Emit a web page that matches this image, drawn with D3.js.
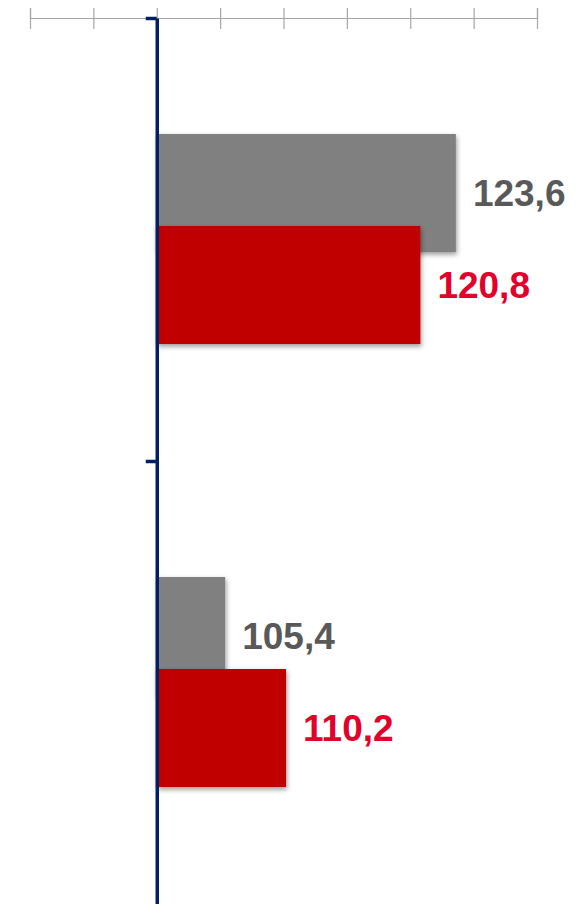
<!DOCTYPE html>
<html>
<head>
<meta charset="utf-8">
<script src="https://cdn.jsdelivr.net/npm/d3@7"></script>
<style>
  html, body { margin: 0; padding: 0; background: #fff; }
  svg { display: block; }
</style>
</head>
<body>
<svg id="chart" width="587" height="904"></svg>
<script>
// ---- data ----
const categories = ["Kategorie 1", "Kategorie 2"];
const seriesNames = ["Vorjahr", "Aktuell"];
const previousValues = [123.6, 105.4];
const currentValues = [120.8, 110.2];
const axisTicks = [90, 95, 100, 105, 110, 115, 120, 125, 130];
const baseValue = 100;

const seriesColors = ["#808080", "#C00000"];
const labelColors = ["#595959", "#E3002B"];

const svg = d3.select("#chart");
const W = 587, H = 904;

const x = d3.scaleLinear().domain([90, 130]).range([30, 537]);
const yTop = 18;
const yBand = d3.scaleBand().domain(categories).range([yTop, yTop + 443 * 2]).padding(0);
const ySeries = d3.scalePoint().domain(seriesNames).range([116, 208]);
const barH = 118;

const defs = svg.append("defs");
const f = defs.append("filter").attr("id", "shadow")
  .attr("x", "-10%").attr("y", "-10%").attr("width", "120%").attr("height", "130%");
f.append("feDropShadow").attr("dx", 1).attr("dy", 2.5).attr("stdDeviation", 2.5)
  .attr("flood-color", "#000").attr("flood-opacity", 0.4);

// top axis
const topAxis = svg.append("g").attr("transform", `translate(0,${yTop})`)
  .call(d3.axisTop(x).tickValues(axisTicks).tickFormat("").tickSizeOuter(0).tickSize(10));
topAxis.select(".domain").attr("stroke", "#A6A6A6").attr("stroke-width", 1.2);
topAxis.selectAll(".tick line").attr("stroke", "#A6A6A6").attr("stroke-width", 1.2)
  .attr("y1", 11).attr("y2", -10);

const data = [];
categories.forEach((c, i) => {
  data.push({cat: c, s: seriesNames[0], v: previousValues[i], k: 0});
  data.push({cat: c, s: seriesNames[1], v: currentValues[i], k: 1});
});

// bars
svg.append("g").selectAll("rect").data(data).join("rect")
  .attr("x", x(baseValue))
  .attr("y", d => yBand(d.cat) + ySeries(d.s))
  .attr("width", d => x(d.v) - x(baseValue))
  .attr("height", barH)
  .attr("fill", d => seriesColors[d.k])
  .attr("filter", "url(#shadow)");

// labels
const fs = 37;
svg.append("g").selectAll("text").data(data).join("text")
  .attr("x", d => x(d.v) + 17)
  .attr("y", d => yBand(d.cat) + ySeries(d.s) + barH / 2 + fs * 0.355)
  .attr("fill", d => labelColors[d.k])
  .attr("font-family", "'Liberation Sans', Arial, sans-serif")
  .attr("font-weight", "bold")
  .attr("font-size", fs)
  .text(d => d.v.toFixed(1).replace(".", ","));

// vertical category axis
const yAxisScale = d3.scaleLinear().domain([0, categories.length]).range([yTop, yTop + 443 * 2]);
const leftAxis = svg.append("g").attr("transform", `translate(${x(baseValue)},0)`)
  .call(d3.axisLeft(yAxisScale).tickValues(d3.range(categories.length)).tickFormat("").tickSize(11).tickSizeOuter(0));
leftAxis.select(".domain").attr("stroke", "#002060").attr("stroke-width", 3.5);
leftAxis.selectAll(".tick line").attr("stroke", "#002060").attr("stroke-width", 3.5);
</script>
</body>
</html>
